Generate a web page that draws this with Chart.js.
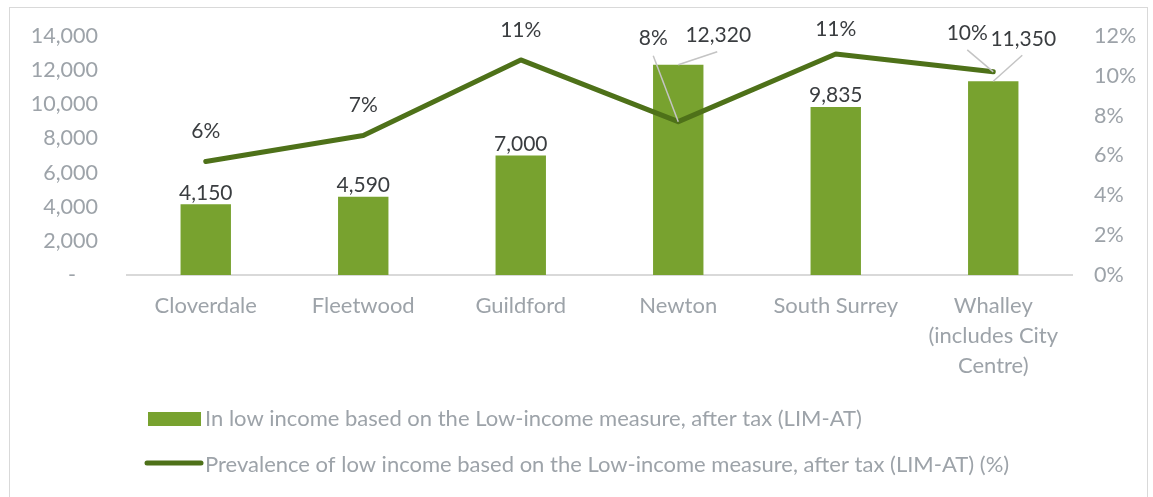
<!DOCTYPE html>
<html>
<head>
<meta charset="utf-8">
<script src="https://cdn.jsdelivr.net/npm/chart.js@4/dist/chart.umd.min.js"></script>
<style>
  html, body { margin: 0; padding: 0; background: #ffffff; }
  #wrap { position: relative; width: 1153px; height: 497px; }
</style>
</head>
<body>
<div id="wrap"><canvas id="c" width="1153" height="497"></canvas></div>
<script>
// ---- Data ----
const categories = [
  "Cloverdale",
  "Fleetwood",
  "Guildford",
  "Newton",
  "South Surrey",
  ["Whalley", "(includes City", "Centre)"]
];
const lowIncomeCounts = [4150, 4590, 7000, 12320, 9835, 11350];
const prevalencePct = [5.7, 7.0, 10.8, 7.7, 11.1, 10.2];
const countLabels = ["4,150", "4,590", "7,000", "12,320", "9,835", "11,350"];
const pctLabels = ["6%", "7%", "11%", "8%", "11%", "10%"];
const leftTicks = [0, 2000, 4000, 6000, 8000, 10000, 12000, 14000];
const rightTicks = [0, 2, 4, 6, 8, 10, 12];
const seriesNames = [
  "In low income based on the Low-income measure, after tax (LIM-AT)",
  "Prevalence of low income based on the Low-income measure, after tax (LIM-AT) (%)"
];

// ---- Style ----
const BAR_COLOR = "#78A22F";
const LINE_COLOR = "#4E7119";
const TICK_COLOR = "#9DA3A9";
const LABEL_COLOR = "#3A3D40";
const FONT = "Lato";
// label offsets (dx, dy from mark) and leader flags
const barLabelOffset = [[0,-11],[0,-11],[0,-11],[40,-29],[0,-12],[30,-42]];
const barLeader = [false,false,false,true,false,true];
const pctLabelOffset = [[0,-30],[0,-30],[0,-30],[-25,-83],[0,-25],[-26,-39]];
const pctLeader = [false,false,false,true,false,true];

const labelsPlugin = {
  id: 'customLabels',
  afterDatasetsDraw(chart) {
    const ctx = chart.ctx;
    const barMeta = chart.getDatasetMeta(0);
    const lineMeta = chart.getDatasetMeta(1);
    ctx.save();
    ctx.font = "21px " + FONT;
    ctx.textAlign = "center";
    ctx.textBaseline = "middle";
    // leader lines
    ctx.strokeStyle = "#C4C4C4";
    ctx.lineWidth = 1.5;
    barMeta.data.forEach((el, i) => {
      if (!barLeader[i]) return;
      const lx = el.x + barLabelOffset[i][0], ly = el.y + barLabelOffset[i][1];
      ctx.beginPath();
      ctx.moveTo(lx - 1, ly + 16);
      ctx.lineTo(el.x, el.y);
      ctx.stroke();
    });
    lineMeta.data.forEach((el, i) => {
      if (!pctLeader[i]) return;
      const lx = el.x + pctLabelOffset[i][0], ly = el.y + pctLabelOffset[i][1];
      ctx.beginPath();
      ctx.moveTo(lx, ly + 17);
      ctx.lineTo(el.x, el.y);
      ctx.stroke();
    });
    ctx.fillStyle = LABEL_COLOR;
    barMeta.data.forEach((el, i) => {
      ctx.fillText(countLabels[i], el.x + barLabelOffset[i][0], el.y + barLabelOffset[i][1]);
    });
    lineMeta.data.forEach((el, i) => {
      ctx.fillText(pctLabels[i], el.x + pctLabelOffset[i][0], el.y + pctLabelOffset[i][1]);
    });
    ctx.restore();
  }
};

const legendBorderPlugin = {
  id: 'legendBorder',
  afterDraw(chart) {
    const ctx = chart.ctx;
    ctx.save();
    // outer border
    ctx.strokeStyle = "#D9D9D9";
    ctx.lineWidth = 1;
    ctx.strokeRect(9.5, 7.5, 1138, 495);
    // legend
    ctx.font = "22px " + FONT;
    ctx.textAlign = "left";
    ctx.textBaseline = "middle";
    ctx.fillStyle = BAR_COLOR;
    ctx.fillRect(148, 412, 53, 14);
    ctx.fillStyle = TICK_COLOR;
    ctx.fillText(seriesNames[0], 205, 419);
    ctx.strokeStyle = LINE_COLOR;
    ctx.lineWidth = 5;
    ctx.lineCap = "round";
    ctx.beginPath();
    ctx.moveTo(147, 463);
    ctx.lineTo(201, 463);
    ctx.stroke();
    ctx.fillText(seriesNames[1], 205, 465);
    ctx.restore();
  }
};

function zeroPad(s) { s.paddingTop = 0; s.paddingBottom = 0; s.paddingLeft = 0; s.paddingRight = 0; }

new Chart(document.getElementById('c'), {
  data: {
    labels: categories,
    datasets: [
      {
        type: 'bar',
        label: seriesNames[0],
        data: lowIncomeCounts,
        backgroundColor: BAR_COLOR,
        yAxisID: 'y',
        categoryPercentage: 1.0,
        barPercentage: 0.32,
        order: 2
      },
      {
        type: 'line',
        label: seriesNames[1],
        data: prevalencePct,
        borderColor: LINE_COLOR,
        borderWidth: 5,
        pointRadius: 0,
        tension: 0,
        borderJoinStyle: 'round',
        borderCapStyle: 'round',
        yAxisID: 'y1',
        order: 1
      }
    ]
  },
  options: {
    responsive: false,
    animation: false,
    events: [],
    layout: { padding: { left: 0, right: 0, top: 36, bottom: 112 } },
    plugins: { legend: { display: false }, tooltip: { enabled: false } },
    scales: {
      x: {
        grid: { display: false, drawTicks: false },
        border: { display: true, color: "#D9D9D9", width: 2 },
        ticks: {
          color: TICK_COLOR,
          font: { family: FONT, size: 22, lineHeight: 1.36 },
          padding: 16,
          maxRotation: 0,
          autoSkip: false
        },
        afterFit(s) { s.height = 110; zeroPad(s); }
      },
      y: {
        position: 'left',
        min: 0, max: 14000,
        grid: { display: false, drawTicks: false },
        border: { display: false },
        afterBuildTicks(s) { s.ticks = leftTicks.map(v => ({ value: v })); },
        ticks: {
          color: TICK_COLOR,
          font: { family: FONT, size: 21.5 },
          padding: 29,
          callback: (v) => v === 0 ? "-    " : v.toLocaleString('en-US')
        },
        afterFit(s) { s.width = 127; zeroPad(s); }
      },
      y1: {
        position: 'right',
        min: 0, max: 12,
        grid: { display: false, drawTicks: false },
        border: { display: false },
        afterBuildTicks(s) { s.ticks = rightTicks.map(v => ({ value: v })); },
        ticks: {
          color: TICK_COLOR,
          font: { family: FONT, size: 21.5 },
          padding: 22,
          callback: (v) => v + "%"
        },
        afterFit(s) { s.width = 81; zeroPad(s); }
      }
    }
  },
  plugins: [labelsPlugin, legendBorderPlugin]
});
</script>
</body>
</html>
